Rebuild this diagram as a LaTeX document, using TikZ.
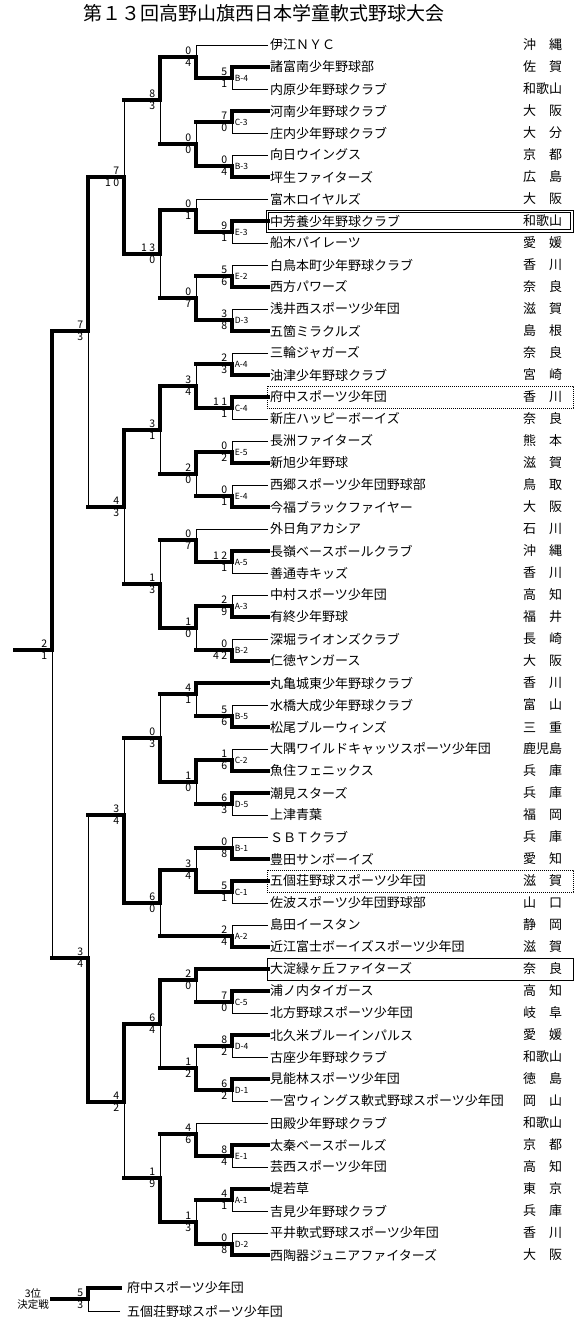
\documentclass[tikz,border=0pt]{standalone}
\usepackage{fontspec}
\setmainfont{Noto Sans CJK JP}
\usetikzlibrary{calc}

\begin{document}
\begin{tikzpicture}[
  x=1pt, y=-1pt,
  winLine/.style={line width=3.6pt, line cap=rect},
  loseLine/.style={line width=0.9pt},
  teamName/.style={anchor=west, inner xsep=2pt, inner ysep=0pt,
                   font=\fontsize{13}{13}\selectfont},
  prefName/.style={teamName, inner xsep=0pt},
  score/.style={inner sep=0pt, font=\fontsize{10.5}{10.5}\selectfont},
  blockTag/.style={anchor=west, inner sep=0pt, xshift=2.6pt,
                   font=\fontsize{8.5}{8.5}\selectfont},
  champBox/.style={draw, line width=0.8pt},
  finalBox/.style={draw, line width=0.9pt},
  thirdBox/.style={draw, line width=0.8pt, dash pattern=on 0.8pt off 1.2pt},
]
\fill[white] (0,0) rectangle (587,1333);
\useasboundingbox (0,0) rectangle (587,1333);

% --- Title ---
\node[font=\fontsize{19}{19}\selectfont] (title) at (264,13)
  {第１３回高野山旗西日本学童軟式野球大会};

% --- Match junctions (round x, output y) ---
\foreach \m/\x/\y in {
  mB4/232/78, mC3/232/122, mB3/232/166, mE3/232/232, mE2/232/276,
  mD3/232/320, mA4/232/364, mC4/232/408, mE5/232/452, mE4/232/496,
  mA5/232/562, mA3/232/606, mB2/232/650, mB5/232/716, mC2/232/760,
  mD5/232/804, mB1/232/848, mC1/232/892, mA2/232/936, mC5/232/1002,
  mD4/232/1046, mD1/232/1090, mE1/232/1156, mA1/232/1200, mD2/232/1244,
  m2a/196/57, m2b/196/144, m2c/196/210, m2d/196/298, m2e/196/386,
  m2f/196/474, m2g/196/540, m2h/196/628, m2i/196/694, m2j/196/782,
  m2k/196/870, m2l/196/980, m2m/196/1068, m2n/196/1134, m2o/196/1222,
  m3a/160/100, m3b/160/254, m3c/160/430, m3d/160/584, m3e/160/738,
  m3f/160/903, m3g/160/1024, m3h/160/1178,
  m4a/124/177, m4b/124/507, m4c/124/815, m4d/124/1102,
  m5a/88/331, m5b/88/958, m6/52/650, m3rd/88/1299}
  \coordinate (\m) at (\x,\y);
\coordinate (cFin) at (15,650);
\coordinate (cThird) at (52,1299);

% --- Teams: name / prefecture / first match / line ---
\foreach \nm/\pf/\p/\s [count=\i] in {
  伊江ＮＹＣ/沖　縄/m2a/loseLine,
  諸富南少年野球部/佐　賀/mB4/winLine,
  内原少年野球クラブ/和歌山/mB4/loseLine,
  河南少年野球クラブ/大　阪/mC3/winLine,
  庄内少年野球クラブ/大　分/mC3/loseLine,
  向日ウイングス/京　都/mB3/loseLine,
  坪生ファイターズ/広　島/mB3/winLine,
  富木ロイヤルズ/大　阪/m2c/loseLine,
  中芳養少年野球クラブ/和歌山/mE3/winLine,
  船木パイレーツ/愛　媛/mE3/loseLine,
  白鳥本町少年野球クラブ/香　川/mE2/loseLine,
  西方パワーズ/奈　良/mE2/winLine,
  浅井西スポーツ少年団/滋　賀/mD3/loseLine,
  五箇ミラクルズ/島　根/mD3/winLine,
  三輪ジャガーズ/奈　良/mA4/loseLine,
  油津少年野球クラブ/宮　崎/mA4/winLine,
  府中スポーツ少年団/香　川/mC4/winLine,
  新庄ハッピーボーイズ/奈　良/mC4/loseLine,
  長洲ファイターズ/熊　本/mE5/loseLine,
  新旭少年野球/滋　賀/mE5/winLine,
  西郷スポーツ少年団野球部/鳥　取/mE4/loseLine,
  今福ブラックファイヤー/大　阪/mE4/winLine,
  外日角アカシア/石　川/m2g/loseLine,
  長嶺ベースボールクラブ/沖　縄/mA5/winLine,
  善通寺キッズ/香　川/mA5/loseLine,
  中村スポーツ少年団/高　知/mA3/loseLine,
  有終少年野球/福　井/mA3/winLine,
  深堀ライオンズクラブ/長　崎/mB2/loseLine,
  仁徳ヤンガース/大　阪/mB2/winLine,
  丸亀城東少年野球クラブ/香　川/m2i/winLine,
  水橋大成少年野球クラブ/富　山/mB5/loseLine,
  松尾ブルーウィンズ/三　重/mB5/winLine,
  大隅ワイルドキャッツスポーツ少年団/鹿児島/mC2/loseLine,
  魚住フェニックス/兵　庫/mC2/winLine,
  潮見スターズ/兵　庫/mD5/winLine,
  上津青葉/福　岡/mD5/loseLine,
  ＳＢＴクラブ/兵　庫/mB1/loseLine,
  豊田サンボーイズ/愛　知/mB1/winLine,
  五個荘野球スポーツ少年団/滋　賀/mC1/winLine,
  佐波スポーツ少年団野球部/山　口/mC1/loseLine,
  島田イースタン/静　岡/mA2/loseLine,
  近江富士ボーイズスポーツ少年団/滋　賀/mA2/winLine,
  大淀緑ヶ丘ファイターズ/奈　良/m2l/winLine,
  浦ノ内タイガース/高　知/mC5/winLine,
  北方野球スポーツ少年団/岐　阜/mC5/loseLine,
  北久米ブルーインパルス/愛　媛/mD4/winLine,
  古座少年野球クラブ/和歌山/mD4/loseLine,
  見能林スポーツ少年団/徳　島/mD1/winLine,
  一宮ウィングス軟式野球スポーツ少年団/岡　山/mD1/loseLine,
  田殿少年野球クラブ/和歌山/m2n/loseLine,
  太秦ベースボールズ/京　都/mE1/winLine,
  芸西スポーツ少年団/高　知/mE1/loseLine,
  堤若草/東　京/mA1/winLine,
  吉見少年野球クラブ/兵　庫/mA1/loseLine,
  平井軟式野球スポーツ少年団/香　川/mD2/loseLine,
  西陶器ジュニアファイターズ/大　阪/mD2/winLine}
{
  \node[teamName] (t\i) at (268,{23+22*\i}) {\nm};
  \node[prefName] (p\i) at (523,{23+22*\i}) {\pf};
  \draw[\s] (t\i.west) -- (t\i.west -| \p);
}

% --- Third place game entrants ---
\node[teamName, inner xsep=7pt] (s1) at (120,1288) {府中スポーツ少年団};
\node[teamName, inner xsep=7pt] (s2) at (120,1311) {五個荘野球スポーツ少年団};
\draw[winLine] (s1.west) -- (s1.west -| m3rd);
\draw[loseLine] (s2.west) -- (s2.west -| m3rd);
\node[align=center, font=\fontsize{10.5}{11}\selectfont] (thirdLabel)
  at (33,1299) {3位\\決定戦};

% --- Matches: junction / upper / lower / scores / segment styles / next ---
\foreach \m/\a/\b/\sa/\sb/\va/\vb/\p in {
  mB4/t2/t3/5/1/winLine/loseLine/m2a,
  mC3/t4/t5/7/0/winLine/loseLine/m2b,
  mB3/t6/t7/0/4/loseLine/winLine/m2b,
  mE3/t9/t10/9/1/winLine/loseLine/m2c,
  mE2/t11/t12/5/6/loseLine/winLine/m2d,
  mD3/t13/t14/3/8/loseLine/winLine/m2d,
  mA4/t15/t16/2/3/loseLine/winLine/m2e,
  mC4/t17/t18/1\hspace{2.5pt}1/1/winLine/loseLine/m2e,
  mE5/t19/t20/0/2/loseLine/winLine/m2f,
  mE4/t21/t22/0/1/loseLine/winLine/m2f,
  mA5/t24/t25/1\hspace{2.5pt}2/1/winLine/loseLine/m2g,
  mA3/t26/t27/2/9/loseLine/winLine/m2h,
  mB2/t28/t29/0/4\hspace{2.5pt}2/loseLine/winLine/m2h,
  mB5/t31/t32/5/6/loseLine/winLine/m2i,
  mC2/t33/t34/1/6/loseLine/winLine/m2j,
  mD5/t35/t36/6/3/winLine/loseLine/m2j,
  mB1/t37/t38/0/8/loseLine/winLine/m2k,
  mC1/t39/t40/5/1/winLine/loseLine/m2k,
  mA2/t41/t42/2/4/loseLine/winLine/m3f,
  mC5/t44/t45/7/0/winLine/loseLine/m2l,
  mD4/t46/t47/8/2/winLine/loseLine/m2m,
  mD1/t48/t49/6/2/winLine/loseLine/m2m,
  mE1/t51/t52/8/4/winLine/loseLine/m2n,
  mA1/t53/t54/4/1/winLine/loseLine/m2o,
  mD2/t55/t56/0/8/loseLine/winLine/m2o,
  m2a/t1/mB4/0/4/loseLine/winLine/m3a,
  m2b/mC3/mB3/0/0/loseLine/winLine/m3a,
  m2c/t8/mE3/0/1/loseLine/winLine/m3b,
  m2d/mE2/mD3/0/7/loseLine/winLine/m3b,
  m2e/mA4/mC4/3/4/loseLine/winLine/m3c,
  m2f/mE5/mE4/2/0/winLine/loseLine/m3c,
  m2g/t23/mA5/0/7/loseLine/winLine/m3d,
  m2h/mA3/mB2/1/0/winLine/loseLine/m3d,
  m2i/t30/mB5/4/1/winLine/loseLine/m3e,
  m2j/mC2/mD5/1/0/winLine/loseLine/m3e,
  m2k/mB1/mC1/3/4/loseLine/winLine/m3f,
  m2l/t43/mC5/2/0/winLine/loseLine/m3g,
  m2m/mD4/mD1/1/2/loseLine/winLine/m3g,
  m2n/t50/mE1/4/6/loseLine/winLine/m3h,
  m2o/mA1/mD2/1/3/loseLine/winLine/m3h,
  m3a/m2a/m2b/8/3/winLine/loseLine/m4a,
  m3b/m2c/m2d/1\hspace{2.5pt}3/0/winLine/loseLine/m4a,
  m3c/m2e/m2f/3/1/winLine/loseLine/m4b,
  m3d/m2g/m2h/1/3/loseLine/winLine/m4b,
  m3e/m2i/m2j/0/3/loseLine/winLine/m4c,
  m3f/m2k/mA2/6/0/winLine/loseLine/m4c,
  m3g/m2l/m2m/6/4/winLine/loseLine/m4d,
  m3h/m2n/m2o/1/9/loseLine/winLine/m4d,
  m4a/m3a/m3b/7/1\hspace{2.5pt}0/loseLine/winLine/m5a,
  m4b/m3c/m3d/4/3/winLine/loseLine/m5a,
  m4c/m3e/m3f/3/4/loseLine/winLine/m5b,
  m4d/m3g/m3h/4/2/winLine/loseLine/m5b,
  m5a/m4a/m4b/7/3/winLine/loseLine/m6,
  m5b/m4c/m4d/3/4/loseLine/winLine/m6,
  m6/m5a/m5b/2/1/winLine/loseLine/cFin,
  m3rd/s1/s2/5/3/winLine/loseLine/cThird}
{
  \draw[\va] (\a -| \m) -- (\m);
  \draw[\vb] (\m) -- (\b -| \m);
  \draw[winLine] (\m) -- (\m -| \p);
  \node[score, anchor=south east, xshift=-4.5pt, yshift=2pt] (\m-a) at (\m) {\sa};
  \node[score, anchor=north east, xshift=-4.5pt, yshift=-2pt] (\m-b) at (\m) {\sb};
}

% --- Block tags on the first-round games ---
\foreach \g/\k in {B/4, C/3, B/3, E/3, E/2, D/3, A/4, C/4, E/5, E/4, A/5,
  A/3, B/2, B/5, C/2, D/5, B/1, C/1, A/2, C/5, D/4, D/1, E/1, A/1, D/2}
  \node[blockTag] (tag\g\k) at (m\g\k) {\g-\k};

% --- Placings ---
\draw[champBox] ($(t9.west)+(-2,-11)$) rectangle ($(p9.west)+(50,11)$);
\draw[champBox] ($(t9.west)+(0.5,-8.5)$) rectangle ($(p9.west)+(47.5,8.5)$);
\draw[finalBox] ($(t43.west)+(-1,-11)$) rectangle ($(p43.west)+(50,11)$);
\draw[thirdBox] ($(t17.west)+(-1,-11)$) rectangle ($(p17.west)+(50,11)$);
\draw[thirdBox] ($(t39.west)+(-1,-11)$) rectangle ($(p39.west)+(50,11)$);

\end{tikzpicture}
\end{document}
